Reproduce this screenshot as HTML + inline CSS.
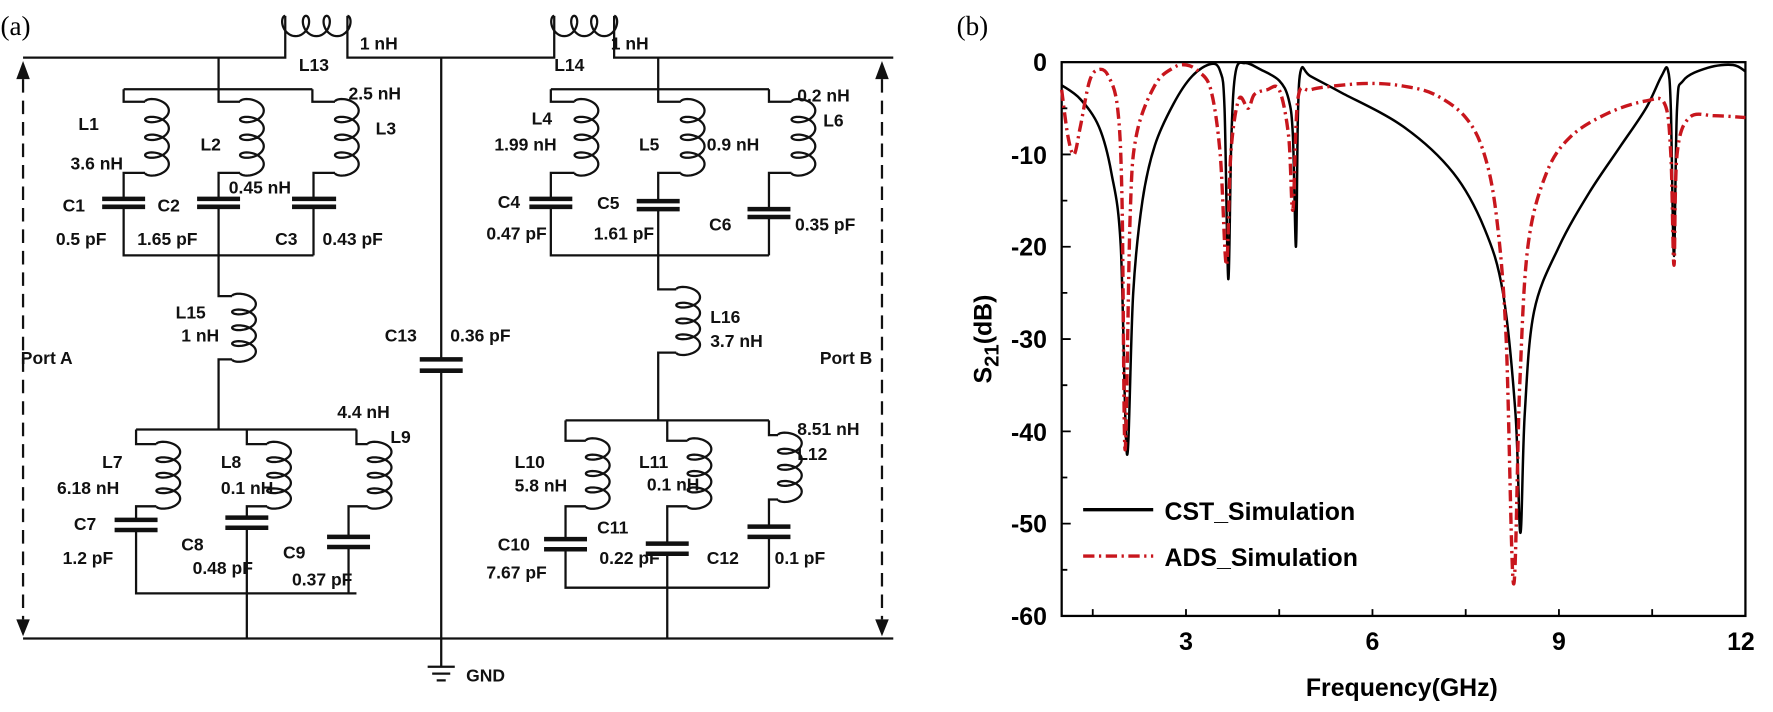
<!DOCTYPE html>
<html><head><meta charset="utf-8"><style>
html,body{margin:0;padding:0;background:#fff;}
svg{display:block;}
.t{font-family:"Liberation Sans",sans-serif;font-weight:bold;font-size:15.5px;fill:#111;}
.w{stroke:#111;stroke-width:2;fill:none;}
.cap{stroke:#111;stroke-width:4;}
.ax{font-family:"Liberation Sans",sans-serif;font-weight:bold;font-size:22px;fill:#000;}
</style></head><body>
<svg id="s" width="1773" height="712" viewBox="0 0 1568 630" xmlns="http://www.w3.org/2000/svg">
<rect width="1568" height="630" fill="#fff"/>
<text x="0" y="31" font-family="Liberation Serif,serif" font-size="24">(a)</text>
<text x="846" y="31" font-family="Liberation Serif,serif" font-size="24">(b)</text>
<g class="w" id="wires">
<path d="M20 51 H252 V14 M307 14 V51 H490 V14 M543 14 V51 H790"/>
<path d="M20 565 H790"/>
<path d="M193 51 V79 M109 79 H276 M109 79 V90 H128 M128 153 H109 V176 M109 183 V226 H277 M193 79 V90 H212 M212 153 H193 V176 M193 183 V226 M276 79 V90 H296 M296 153 H277 V176 M277 183 V226"/>
<path d="M193 226 V262 H205 M205 318 H193 V380"/>
<path d="M120 380 H315 M120 380 V393 H138 M138 448 H120 V460 M120 469 V525 H315 M218 380 V393 H236 M236 448 H218 V458 M218 467 V565 M315 380 V393 H325 M325 448 H308 V475 M308 484 V525"/>
<path d="M390 51 V318 M390 328 V590"/>
<path d="M378 590 H402 M382 596 H398 M386 602 H394"/>
<path d="M582 51 V79 M487 79 H680 M487 79 V90 H508 M508 153 H487 V176 M487 183 V226 H680 M582 79 V90 H602 M602 153 H582 V178 M582 185 V226 M680 79 V90 H700 M700 153 H680 V185 M680 192 V226"/>
<path d="M582 226 V256 H598 M598 312 H582 V372"/>
<path d="M500 372 H680 M500 372 V390 H518 M518 448 H500 V477 M500 486 V520 H680 M590 372 V390 H608 M608 448 H590 V481 M590 490 V565 M680 372 V385 H688 M688 442 H680 V466 M680 475 V520"/>
</g>
<g class="cap">
<path d="M90 176 H128 M90 183 H128 M174 176 H212 M174 183 H212 M258 176 H297 M258 183 H297"/>
<path d="M371 318 H409 M371 328 H409"/>
<path d="M101 460 H139 M101 469 H139 M199 458 H237 M199 467 H237 M289 475 H327 M289 484 H327"/>
<path d="M468 176 H506 M468 183 H506 M563 178 H601 M563 185 H601 M661 185 H699 M661 192 H699"/>
<path d="M481 477 H519 M481 486 H519 M571 481 H609 M571 490 H609 M661 466 H699 M661 475 H699"/>
</g>
<g stroke="#111" stroke-width="2" stroke-dasharray="12 7">
<path d="M20 70 V548"/><path d="M780 70 V548"/>
</g>
<path d="M14 70 L20 54 L26 70 Z M14 548 L20 563 L26 548 Z M774 70 L780 54 L786 70 Z M774 548 L780 563 L786 548 Z" fill="#111"/>
<g id="coils" class="w"></g>
<g class="t">
<text x="318" y="44">1 nH</text><text x="264" y="63">L13</text>
<text x="540" y="44">1 nH</text><text x="490" y="63">L14</text>
<text x="69" y="115">L1</text><text x="62" y="150">3.6 nH</text>
<text x="177" y="133">L2</text><text x="202" y="171">0.45 nH</text>
<text x="308" y="88">2.5 nH</text><text x="332" y="119">L3</text>
<text x="55" y="187">C1</text><text x="139" y="187">C2</text>
<text x="49" y="217">0.5 pF</text><text x="121" y="217">1.65 pF</text>
<text x="243" y="217">C3</text><text x="285" y="217">0.43 pF</text>
<text x="155" y="282">L15</text><text x="160" y="302">1 nH</text>
<text x="18" y="322">Port A</text>
<text x="340" y="302">C13</text><text x="398" y="302">0.36 pF</text>
<text x="412" y="603">GND</text>
<text x="90" y="414">L7</text><text x="50" y="437">6.18 nH</text>
<text x="195" y="414">L8</text><text x="195" y="437">0.1 nH</text>
<text x="298" y="370">4.4 nH</text><text x="345" y="392">L9</text>
<text x="65" y="469">C7</text><text x="55" y="499">1.2 pF</text>
<text x="160" y="487">C8</text><text x="170" y="508">0.48 pF</text>
<text x="250" y="494">C9</text><text x="258" y="518">0.37 pF</text>
<text x="470" y="110">L4</text><text x="437" y="133">1.99 nH</text>
<text x="565" y="133">L5</text><text x="625" y="133">0.9 nH</text>
<text x="705" y="90">0.2 nH</text><text x="728" y="112">L6</text>
<text x="440" y="184">C4</text><text x="430" y="212">0.47 pF</text>
<text x="528" y="185">C5</text><text x="525" y="212">1.61 pF</text>
<text x="627" y="204">C6</text><text x="703" y="204">0.35 pF</text>
<text x="628" y="286">L16</text><text x="628" y="307">3.7 nH</text>
<text x="725" y="322">Port B</text>
<text x="455" y="414">L10</text><text x="455" y="435">5.8 nH</text>
<text x="565" y="414">L11</text><text x="572" y="434">0.1 nH</text>
<text x="705" y="385">8.51 nH</text><text x="705" y="407">L12</text>
<text x="440" y="487">C10</text><text x="430" y="512">7.67 pF</text>
<text x="528" y="472">C11</text><text x="530" y="499">0.22 pF</text>
<text x="625" y="499">C12</text><text x="685" y="499">0.1 pF</text>
</g>
<rect x="939" y="55" width="605" height="490" fill="none" stroke="#000" stroke-width="2"/>
<g id="ticks" stroke="#000" stroke-width="1.6"></g>
<g class="ax" text-anchor="end">
<text x="926" y="63">0</text><text x="926" y="145">-10</text><text x="926" y="226">-20</text>
<text x="926" y="308">-30</text><text x="926" y="390">-40</text><text x="926" y="471">-50</text><text x="926" y="553">-60</text>
</g>
<g class="ax" text-anchor="middle">
<text x="1049" y="575">3</text><text x="1214" y="575">6</text><text x="1379" y="575">9</text><text x="1540" y="575">12</text>
</g>
<text x="1240" y="616" text-anchor="middle" class="ax" font-size="24">Frequency(GHz)</text>
<text transform="translate(877,300) rotate(-90)" text-anchor="middle" class="ax" font-size="25">S<tspan font-size="18" dy="6">21</tspan><tspan dy="-6">(dB)</tspan></text>
<g id="curves"></g>
<line x1="958" y1="451" x2="1020" y2="451" stroke="#000" stroke-width="3"/>
<line x1="958" y1="492" x2="1020" y2="492" stroke="#c8161d" stroke-width="3" stroke-dasharray="10 4 2 4"/>
<text x="1030" y="460" class="ax" font-size="25">CST_Simulation</text>
<text x="1030" y="501" class="ax" font-size="25">ADS_Simulation</text>
</svg>
<script>
var NS="http://www.w3.org/2000/svg";
function P(d,st){var p=document.createElementNS(NS,"path");p.setAttribute("d",d);for(var k in st)p.setAttribute(k,st[k]);return p;}
var cg=document.getElementById("coils");
function vcoil(cx,y0,y1,n,a){var N=n*40,k=(y1-y0)/(2*Math.PI*n),b=2.3*k,d="";
for(var i=0;i<=N;i++){var t=2*Math.PI*n*i/N;var x=cx+a*(1-Math.cos(t)),y=y0+k*t-b*Math.sin(t);d+=(i?"L":"M")+x.toFixed(2)+" "+y.toFixed(2);}
cg.appendChild(P(d,{}));}
function hcoil(x0,x1,yt,n,a){var N=n*40,k=(x1-x0)/(2*Math.PI*n),b=2.3*k,d="";
for(var i=0;i<=N;i++){var t=2*Math.PI*n*i/N;var x=x0+k*t-b*Math.sin(t),y=yt+a*(1-Math.cos(t));d+=(i?"L":"M")+x.toFixed(2)+" "+y.toFixed(2);}
cg.appendChild(P(d,{}));}
hcoil(252,307,14,3,9);hcoil(490,543,14,3,9);
[[128,90,153],[212,90,153],[296,90,153],[508,90,153],[602,90,153],[700,90,153],[205,262,318],[598,256,312],
 [138,393,448],[236,393,448],[325,393,448],[518,390,448],[608,390,448],[688,385,442]].forEach(function(c){vcoil(c[0],c[1],c[2],4,10.5);});
var X=function(f){return 939+55*(f-1)},Y=function(v){return 55-v*490/60};
var tg=document.getElementById("ticks"),td="";
for(var f=1.5;f<=12;f+=1.5){td+="M"+X(f)+" 545 v-6 ";}
for(var v=-5;v>-60;v-=5){td+="M939 "+Y(v)+" h"+(v%10==0?8:5)+" ";}
tg.appendChild(P(td,{}));
function curve(pts,st){var q=pts.map(function(p){return [X(p[0]),Y(p[1])];});
var d="M"+q[0][0].toFixed(1)+" "+q[0][1].toFixed(1);
for(var i=0;i<q.length-1;i++){var p0=q[i-1]||q[i],p1=q[i],p2=q[i+1],p3=q[i+2]||p2;
var c1=[p1[0]+(p2[0]-p0[0])/6,p1[1]+(p2[1]-p0[1])/6],c2=[p2[0]-(p3[0]-p1[0])/6,p2[1]-(p3[1]-p1[1])/6];
if(c1[0]>p2[0])c1[0]=p2[0];if(c2[0]<p1[0])c2[0]=p1[0];
d+="C"+c1[0].toFixed(1)+" "+c1[1].toFixed(1)+" "+c2[0].toFixed(1)+" "+c2[1].toFixed(1)+" "+p2[0].toFixed(1)+" "+p2[1].toFixed(1);}
document.getElementById("curves").appendChild(P(d,st));}
var ads=[[1,-3],[1.1,-8],[1.2,-10],[1.3,-7],[1.45,-2],[1.6,-0.8],[1.75,-1.5],[1.9,-5],[1.97,-15],[2.02,-42],[2.1,-17],[2.2,-8],[2.5,-2.5],[2.8,-0.6],[3.0,-0.3],[3.2,-1],[3.4,-3],[3.55,-10],[3.65,-22],[3.72,-10],[3.85,-4],[4.0,-5],[4.1,-3.5],[4.3,-3],[4.5,-3],[4.65,-8],[4.72,-16],[4.8,-4],[5.0,-3],[5.5,-2.5],[6.0,-2.3],[6.5,-2.6],[7,-3.5],[7.5,-6],[7.8,-10],[8.0,-17],[8.15,-30],[8.27,-56.5],[8.37,-35],[8.5,-20],[8.8,-12],[9.2,-8],[9.8,-5.5],[10.4,-4.2],[10.7,-4.5],[10.8,-10],[10.85,-22],[10.9,-10],[11.1,-6],[11.5,-5.8],[12,-6]];
var cst=[[1,-2.5],[1.3,-4],[1.6,-7],[1.8,-12],[1.95,-20],[2.05,-42.5],[2.15,-25],[2.3,-15],[2.5,-9],[2.8,-4.5],[3.1,-1.5],[3.4,-0.2],[3.55,-1],[3.62,-5],[3.68,-23.5],[3.73,-8],[3.8,-1],[3.95,-0.1],[4.2,-0.8],[4.5,-2],[4.65,-4],[4.72,-8],[4.77,-20],[4.8,-6],[4.85,-0.8],[5.0,-1.5],[5.5,-3.3],[6.5,-7],[7.3,-12],[7.8,-18],[8.1,-25],[8.3,-38],[8.38,-51],[8.45,-38],[8.6,-27],[9,-20],[9.5,-14],[10,-9],[10.4,-5],[10.65,-1.5],[10.75,-0.8],[10.8,-5],[10.85,-21],[10.9,-5],[11,-2],[11.4,-0.6],[11.8,-0.3],[12,-1]];
curve(cst,{fill:"none",stroke:"#000","stroke-width":"2.2","stroke-linejoin":"round"});
curve(ads,{fill:"none",stroke:"#c8161d","stroke-width":"3","stroke-dasharray":"10 4 2 4"});
</script>
</body></html>
